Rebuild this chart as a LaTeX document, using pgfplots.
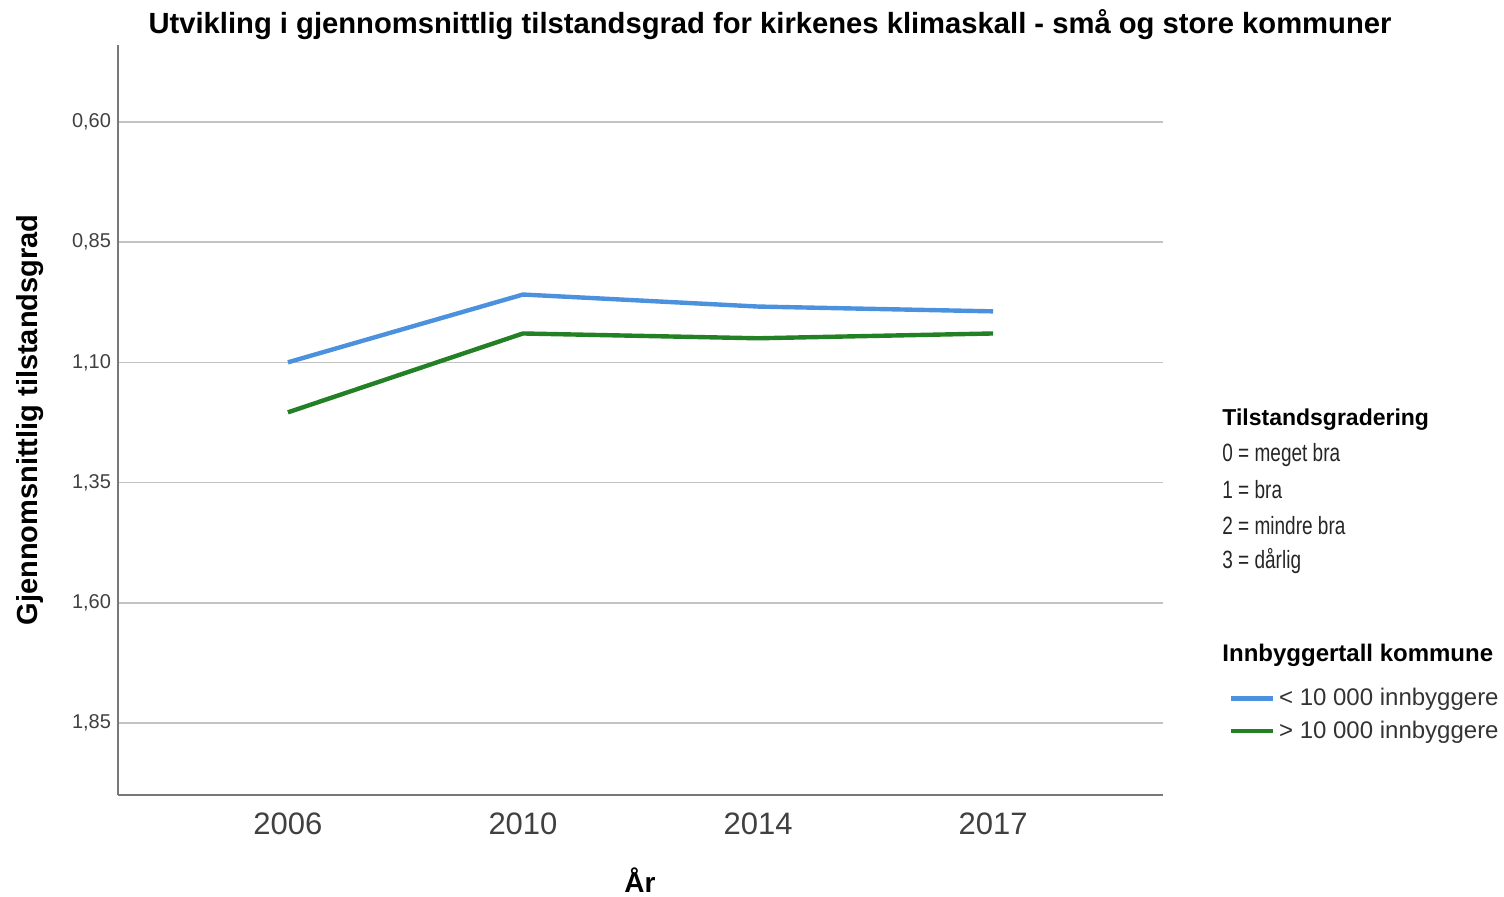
\documentclass[border=0pt]{standalone}
\usepackage{pgfplots}
\pgfplotsset{compat=1.18}
\usepackage{fontspec}
\setmainfont{Liberation Sans}
\usepackage{graphicx}
\definecolor{lblue}{RGB}{76,145,222}
\definecolor{lgreen}{RGB}{36,128,36}
\definecolor{axgray}{RGB}{120,120,120}
\definecolor{gridgray}{RGB}{195,195,195}
\begin{document}
\begin{tikzpicture}
\useasboundingbox (-59pt,-50.5pt) rectangle (693pt,397.5pt);
\begin{axis}[
  at={(0,0)}, anchor=south west,
  scale only axis, width=522.5pt, height=375pt,
  xmin=-0.723, xmax=3.723,
  ymin=0.44, ymax=2.0, y dir=reverse,
  axis lines*=left,
  axis line style={axgray, line width=1pt},
  xtick={0,1,2,3},
  xticklabels={2006,2010,2014,2017},
  xticklabel style={font=\fontsize{15.5}{18}\selectfont, text=black!75, yshift=-5.5pt},
  ytick={0.60,0.85,1.10,1.35,1.60,1.85},
  yticklabels={{0,60},{0,85},{1,10},{1,35},{1,60},{1,85}},
  yticklabel style={font=\fontsize{10}{12}\selectfont, text=black!75},
  major tick length=0pt,
  ymajorgrids, grid style={gridgray, line width=0.8pt},
  clip=false,
  legend cell align=left,
  legend style={at={(axis description cs:1.0625,0.148)}, anchor=north west,
    draw=none, fill=none, inner sep=0pt, row sep=2pt,
    font=\fontsize{12}{13}\selectfont, text=black!80},
  legend image code/.code={\draw[#1, line width=2.2pt] (0pt,0pt) -- (21pt,0pt);},
]
\addplot[lblue, line width=2.2pt] coordinates {(0,1.10) (1,0.959) (2,0.984) (3,0.994)};
\addlegendentry{< 10 000 innbyggere}
\addplot[lgreen, line width=2.2pt] coordinates {(0,1.204) (1,1.040) (2,1.050) (3,1.040)};
\addlegendentry{> 10 000 innbyggere}
\end{axis}
\node[font=\bfseries\fontsize{14.6}{16}\selectfont] at (326pt,385pt) {Utvikling i gjennomsnittlig tilstandsgrad for kirkenes klimaskall - små og store kommuner};
\node[font=\bfseries\fontsize{14.5}{16}\selectfont, rotate=90] at (-44pt,187.5pt) {Gjennomsnittlig tilstandsgrad};
\node[font=\bfseries\fontsize{14}{16}\selectfont] at (261pt,-42.5pt) {År};
\node[font=\bfseries\fontsize{11.5}{13}\selectfont, anchor=west, inner sep=0pt] at (552pt,187.5pt) {Tilstandsgradering};
\node[font=\fontsize{12.5}{14}\selectfont, anchor=west, inner sep=0pt, text=black!85] at (552pt,170pt) {\scalebox{0.76}[1]{0 = meget bra}};
\node[font=\fontsize{12.5}{14}\selectfont, anchor=west, inner sep=0pt, text=black!85] at (552pt,152.5pt) {\scalebox{0.76}[1]{1 = bra}};
\node[font=\fontsize{12.5}{14}\selectfont, anchor=west, inner sep=0pt, text=black!85] at (552pt,134.5pt) {\scalebox{0.76}[1]{2 = mindre bra}};
\node[font=\fontsize{12.5}{14}\selectfont, anchor=west, inner sep=0pt, text=black!85] at (552pt,117pt) {\scalebox{0.76}[1]{3 = dårlig}};
\node[font=\bfseries\fontsize{12}{14}\selectfont, anchor=west, inner sep=0pt] at (552pt,70pt) {Innbyggertall kommune};
\end{tikzpicture}
\end{document}
